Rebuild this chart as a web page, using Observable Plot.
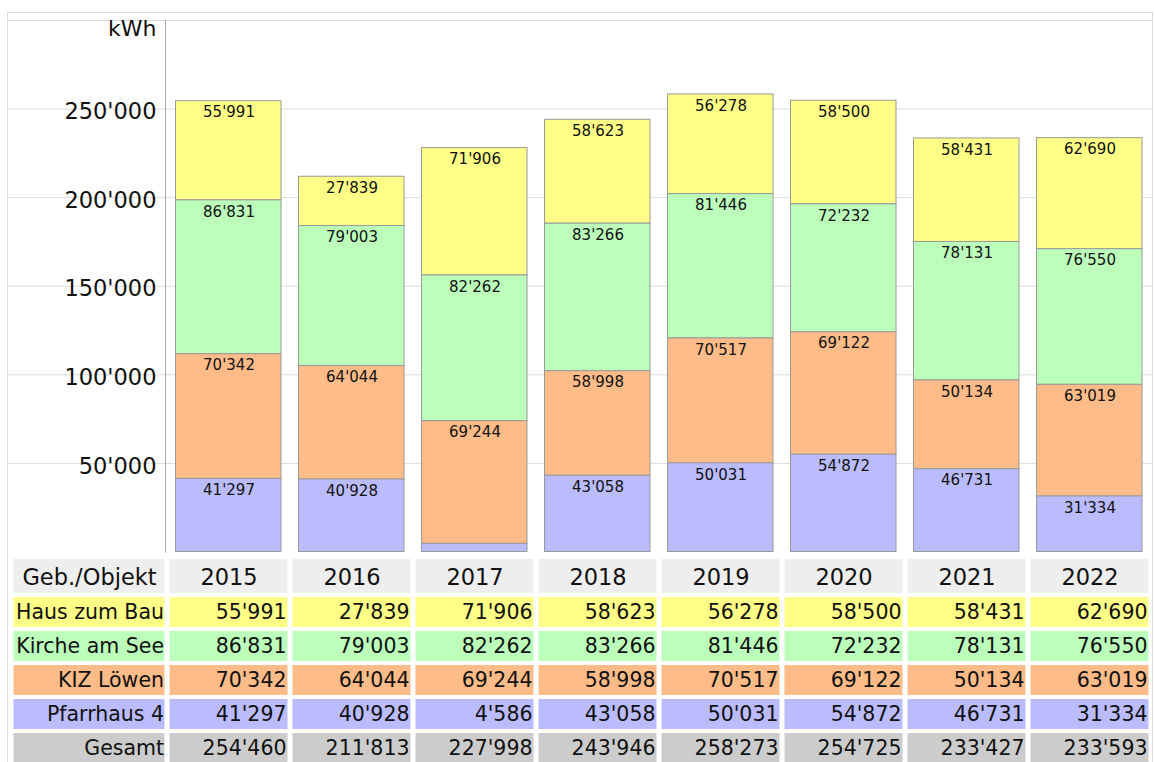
<!DOCTYPE html>
<html><head><meta charset="utf-8">
<script src="https://cdn.jsdelivr.net/npm/d3@7"></script>
<script src="https://cdn.jsdelivr.net/npm/@observablehq/plot@0.6"></script>
<style>
html,body{margin:0;padding:0;background:#fff;overflow:hidden;}
#wrap{position:relative;width:1154px;height:762px;overflow:hidden;}
#frame{position:absolute;left:7px;top:12px;width:1146px;height:800px;border:1px solid #dcdcdc;box-sizing:border-box;pointer-events:none;z-index:5}
#chart svg,#table svg{display:block;max-width:none}
#table{display:flex}
</style></head><body>
<div id="wrap"><div id="chart"></div><div id="table"></div><div id="frame"></div></div>
<script>
// ---- data ----
const years = ["2015", "2016", "2017", "2018", "2019", "2020", "2021", "2022"];
const series = ["Haus zum Bau", "Kirche am See", "KIZ Löwen", "Pfarrhaus 4"];
const hausZumBau  = [55991, 27839, 71906, 58623, 56278, 58500, 58431, 62690];
const kircheAmSee = [86831, 79003, 82262, 83266, 81446, 72232, 78131, 76550];
const kizLoewen   = [70342, 64044, 69244, 58998, 70517, 69122, 50134, 63019];
const pfarrhaus4  = [41297, 40928, 4586, 43058, 50031, 54872, 46731, 31334];
const gesamt      = [254460, 211813, 227998, 243946, 258273, 254725, 233427, 233593];
const yTicks = [50000, 100000, 150000, 200000, 250000];
const gridTicks = [50000, 100000, 150000, 200000, 250000, 300000];
const headerLabel = "Geb./Objekt";
const totalLabel = "Gesamt";
const yUnit = "kWh";

// ---- styles ----
const FONT = "Verdana, 'DejaVu Sans', sans-serif";
const colors = ["#ffff88", "#bbffbb", "#ffbb88", "#bbbbff"];
const headerFill = "#eeeeee";
const totalFill = "#cccccc";

const fmt = d3.formatLocale({decimal: ".", thousands: "'", grouping: [3], currency: ["", ""]}).format(",d");

const valuesBySeries = [hausZumBau, kircheAmSee, kizLoewen, pfarrhaus4];
const stackData = series.flatMap((s, i) => years.map((y, j) => ({year: y, series: s, value: valuesBySeries[i][j]})));
const stackOrder = series.slice().reverse();

const chart = Plot.plot({
  width: 1154, height: 553,
  marginLeft: 167, marginRight: 2.5, marginTop: 20, marginBottom: 1.5,
  style: {fontFamily: FONT, color: "#111", background: "transparent", overflow: "visible"},
  x: {type: "band", domain: years, padding: 0, axis: null},
  y: {domain: [0, 300000], axis: null},
  color: {domain: series, range: colors},
  marks: [
    Plot.ruleY(gridTicks, {stroke: "#dcdcdc", strokeOpacity: 1, insetLeft: -159, insetRight: -1}),
    Plot.frame({anchor: "left", stroke: "#aaaaaa", strokeOpacity: 1, dx: -2}),
    Plot.axisY(yTicks, {tickSize: 0, tickPadding: 11, tickFormat: fmt, fontSize: 22.5, dy: 3, label: null, fill: "#111"}),
    Plot.text([yUnit], {frameAnchor: "top-left", textAnchor: "end", lineAnchor: "middle", dx: -11, dy: 8, fontSize: 22, fill: "#111"}),
    Plot.barY(stackData, {x: "year", y: "value", fill: "series", order: stackOrder, stroke: "#999999", strokeWidth: 1, insetLeft: 8.5, insetRight: 9}),
    Plot.text(stackData, Plot.stackY2({x: "year", y: "value", z: "series", order: stackOrder,
      text: d => d.value > 10000 ? fmt(d.value) : "", lineAnchor: "top", dy: 5.5, fontSize: 15, fill: "#111"}))
  ]
});
document.getElementById("chart").appendChild(chart);

// ---- table ----
const rowIds = [headerLabel, ...series, totalLabel];
const rowFill = [headerFill, ...colors, totalFill];
const rowValues = [null, ...valuesBySeries, gesamt];
const tableData = rowIds.flatMap((r, i) => years.map((y, j) => ({row: r, year: y, header: i === 0, text: i === 0 ? y : fmt(rowValues[i][j])})));
const labelData = rowIds.map((r, i) => ({row: r, col: "label", header: i === 0}));

const tableH = 215;
const yT = {type: "band", domain: rowIds, padding: 0, axis: null};
const cT = {type: "ordinal", domain: rowIds, range: rowFill};

const leftTable = Plot.plot({
  width: 167, height: tableH,
  marginLeft: 10.5, marginRight: 0.5, marginTop: 6, marginBottom: 1,
  style: {fontFamily: FONT, color: "#111", background: "transparent"},
  x: {type: "band", domain: ["label"], padding: 0, axis: null},
  y: yT, color: cT,
  marks: [
    Plot.cell(labelData.filter(d => d.header), {x: "col", y: "row", fill: "row", insetLeft: 2.5, insetRight: 2.5, insetTop: -2, insetBottom: 2}),
    Plot.cell(labelData.filter(d => !d.header), {x: "col", y: "row", fill: "row", insetLeft: 2.5, insetRight: 2.5, insetTop: 2, insetBottom: 2}),
    Plot.text(labelData.filter(d => d.header), {x: "col", y: "row", text: "row", fontSize: 22.5, fill: "#111", dy: -1}),
    Plot.text(labelData.filter(d => !d.header), {x: "col", y: "row", text: "row", textAnchor: "end", dx: 74.5, fontSize: 20.5, fill: "#111"})
  ]
});

const rightTable = Plot.plot({
  width: 987, height: tableH,
  marginLeft: 0, marginRight: 2.5, marginTop: 6, marginBottom: 1,
  style: {fontFamily: FONT, color: "#111", background: "transparent"},
  x: {type: "band", domain: years, padding: 0, axis: null},
  y: yT, color: cT,
  marks: [
    Plot.cell(tableData.filter(d => d.header), {x: "year", y: "row", fill: "row", insetLeft: 2.5, insetRight: 2.5, insetTop: -2, insetBottom: 2}),
    Plot.cell(tableData.filter(d => !d.header), {x: "year", y: "row", fill: "row", insetLeft: 2.5, insetRight: 2.5, insetTop: 2, insetBottom: 2}),
    Plot.text(tableData.filter(d => d.header), {x: "year", y: "row", text: "text", fontSize: 22.5, fill: "#111", dy: -1}),
    Plot.text(tableData.filter(d => !d.header), {x: "year", y: "row", text: "text", textAnchor: "end", dx: 57.5, fontSize: 20.5, fill: "#111"})
  ]
});
const tbl = document.getElementById("table");
tbl.appendChild(leftTable);
tbl.appendChild(rightTable);
</script>
</body></html>
